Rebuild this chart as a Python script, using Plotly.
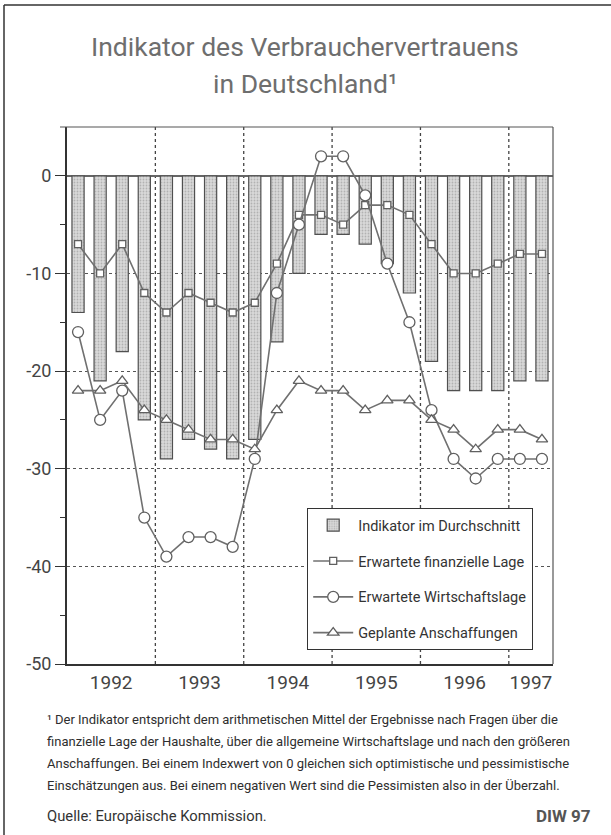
import plotly.graph_objects as go

# ---------------- data ----------------
years = [1992, 1993, 1994, 1995, 1996, 1997]
quarters_per_year = [4, 4, 4, 4, 4, 2]
y_ticks = [-50, -40, -30, -20, -10, 0]
y_tick_labels = ["-50", "-40", "-30", "-20", "-10", "0"]

indikator = [-14, -21, -18, -25, -29, -27, -28, -29, -27, -17, -10,
             -6, -6, -7, -9, -12, -19, -22, -22, -22, -21, -21]
finanz_lage = [-7, -10, -7, -12, -14, -12, -13, -14, -13, -9, -4,
               -4, -5, -3, -3, -4, -7, -10, -10, -9, -8, -8]
wirtschaftslage = [-16, -25, -22, -35, -39, -37, -37, -38, -29, -12, -5,
                   2, 2, -2, -9, -15, -24, -29, -31, -29, -29, -29]
anschaffungen = [-22, -22, -21, -24, -25, -26, -27, -27, -28, -24, -21,
                 -22, -22, -24, -23, -23, -25, -26, -28, -26, -26, -27]

names = ["Indikator im Durchschnitt", "Erwartete finanzielle Lage",
         "Erwartete Wirtschaftslage", "Geplante Anschaffungen"]

title_lines = ["Indikator des Verbrauchervertrauens", "in Deutschland¹"]
footnote_lines = [
    "¹ Der Indikator entspricht dem arithmetischen Mittel der Ergebnisse nach Fragen über die",
    "finanzielle Lage der Haushalte, über die allgemeine Wirtschaftslage und nach den größeren",
    "Anschaffungen. Bei einem Indexwert von 0 gleichen sich optimistische und pessimistische",
    "Einschätzungen aus. Bei einem negativen Wert sind die Pessimisten also in der Überzahl.",
]
source_text = "Quelle: Europäische Kommission."
mark_text = "DIW 97"

# ---------------- geometry ----------------
W, H = 611, 835
L, R, T, B = 67, 553, 127, 664
Y_MIN, Y_MAX = -50, 5

def px_x(px):
    return (px - L) / (R - L)

def px_y(py):
    return (B - py) / (B - T)

FONT = "Roboto, 'Liberation Sans', sans-serif"
LINE_COL = "#707070"

x = list(range(len(indikator)))
starts = []
s = 0
for q in quarters_per_year:
    starts.append(s)
    s += q
year_centers = [st + (q - 1) / 2 for st, q in zip(starts, quarters_per_year)]
boundaries = [st - 0.5 for st in starts[1:]]

fig = go.Figure()
fig.add_trace(go.Bar(
    x=x, y=indikator, width=0.55, name=names[0], legendgroup="a",
    marker=dict(color="#d2d2d2", line=dict(color="#505050", width=1.2),
                pattern=dict(shape=".", fgcolor="#8c8c8c", bgcolor="#d9d9d9",
                             size=3, solidity=0.3)),
))
fig.add_trace(go.Scatter(
    x=x, y=finanz_lage, mode="lines+markers", name=names[1], legendgroup="b",
    line=dict(color=LINE_COL, width=1.6),
    marker=dict(symbol="square", size=7, color="white",
                line=dict(color="#606060", width=1.3)),
))
fig.add_trace(go.Scatter(
    x=x, y=wirtschaftslage, mode="lines+markers", name=names[2], legendgroup="c",
    line=dict(color=LINE_COL, width=1.6),
    marker=dict(symbol="circle", size=11, color="white",
                line=dict(color="#606060", width=1.3)),
))
fig.add_trace(go.Scatter(
    x=x, y=anschaffungen, mode="lines+markers", name=names[3], legendgroup="d",
    line=dict(color=LINE_COL, width=1.6),
    marker=dict(symbol="triangle-up", size=10, color="white",
                line=dict(color="#606060", width=1.3)),
))

shapes = []
for bx in boundaries:
    shapes.append(dict(type="line", xref="x", yref="y", x0=bx, x1=bx,
                       y0=Y_MIN, y1=Y_MAX, layer="below",
                       line=dict(color="#444", width=1.3, dash="dot")))
# plot frame (top / right)
shapes.append(dict(type="line", xref="paper", yref="paper", x0=px_x(60), x1=1,
                   y0=1, y1=1, line=dict(color="#555", width=1.2)))
shapes.append(dict(type="line", xref="paper", yref="paper", x0=1, x1=1,
                   y0=0, y1=1, line=dict(color="#555", width=1.2)))
# outer page frame
shapes.append(dict(type="line", xref="paper", yref="paper", x0=px_x(4), x1=px_x(4),
                   y0=px_y(5), y1=px_y(835), line=dict(color="#333", width=1.5)))
shapes.append(dict(type="line", xref="paper", yref="paper", x0=px_x(4), x1=px_x(611),
                   y0=px_y(5), y1=px_y(5), line=dict(color="#333", width=1.5)))

annotations = []
for i, t in enumerate(title_lines):
    annotations.append(dict(text=t, xref="paper", yref="paper", x=px_x(305),
                            y=px_y(46 + 37 * i), xanchor="center", yanchor="middle",
                            showarrow=False,
                            font=dict(family=FONT, size=26.5, color="#6e6e6e")))
for i, t in enumerate(footnote_lines):
    annotations.append(dict(text=t, xref="paper", yref="paper", x=px_x(45),
                            y=px_y(719 + 22 * i), xanchor="left", yanchor="middle",
                            showarrow=False,
                            font=dict(family=FONT, size=13, color="#2e2e2e")))
annotations.append(dict(text=source_text, xref="paper", yref="paper", x=px_x(45),
                        y=px_y(816), xanchor="left", yanchor="middle", showarrow=False,
                        font=dict(family=FONT, size=14.8, color="#333")))
annotations.append(dict(text="<b>" + mark_text + "</b>", xref="paper", yref="paper",
                        x=px_x(593), y=px_y(816), xanchor="right", yanchor="middle",
                        showarrow=False, font=dict(family=FONT, size=17, color="#555")))

fig.update_layout(
    width=W, height=H,
    margin=dict(l=L, r=W - R, t=T, b=H - B, pad=0),
    paper_bgcolor="white", plot_bgcolor="white",
    font=dict(family=FONT, color="#333"),
    bargap=0.45,
    showlegend=True,
    legend=dict(x=px_x(307), y=px_y(508), xanchor="left", yanchor="top",
                bgcolor="white", bordercolor="#333", borderwidth=1.2,
                font=dict(family=FONT, size=14.5, color="#333"),
                traceorder="grouped", tracegroupgap=14, itemwidth=40),
    shapes=shapes,
    annotations=annotations,
)
fig.update_xaxes(range=[-0.5, len(indikator) - 0.5], tickvals=year_centers,
                 ticktext=[str(y) for y in years], ticks="", showgrid=False,
                 zeroline=False, showline=True, linecolor="#333", linewidth=2,
                 tickfont=dict(family=FONT, size=19, color="#444"))
fig.update_yaxes(range=[Y_MIN, Y_MAX], tickvals=y_ticks, ticktext=y_tick_labels,
                 ticks="outside", ticklen=10, tickcolor="#333", tickwidth=1.3,
                 showgrid=True, gridcolor="#555", griddash="dot", gridwidth=1.2,
                 zeroline=True, zerolinecolor="#666", zerolinewidth=1.6,
                 showline=True, linecolor="#333", linewidth=2,
                 tickfont=dict(family=FONT, size=18, color="#444"),
                 minor=dict(tickvals=[-45, -35, -25, -15, -5], ticks="outside",
                            ticklen=5, tickcolor="#333", showgrid=False))

fig.write_html("out.html", config={"displayModeBar": False},
               post_script="document.body.style.margin='0px';")
